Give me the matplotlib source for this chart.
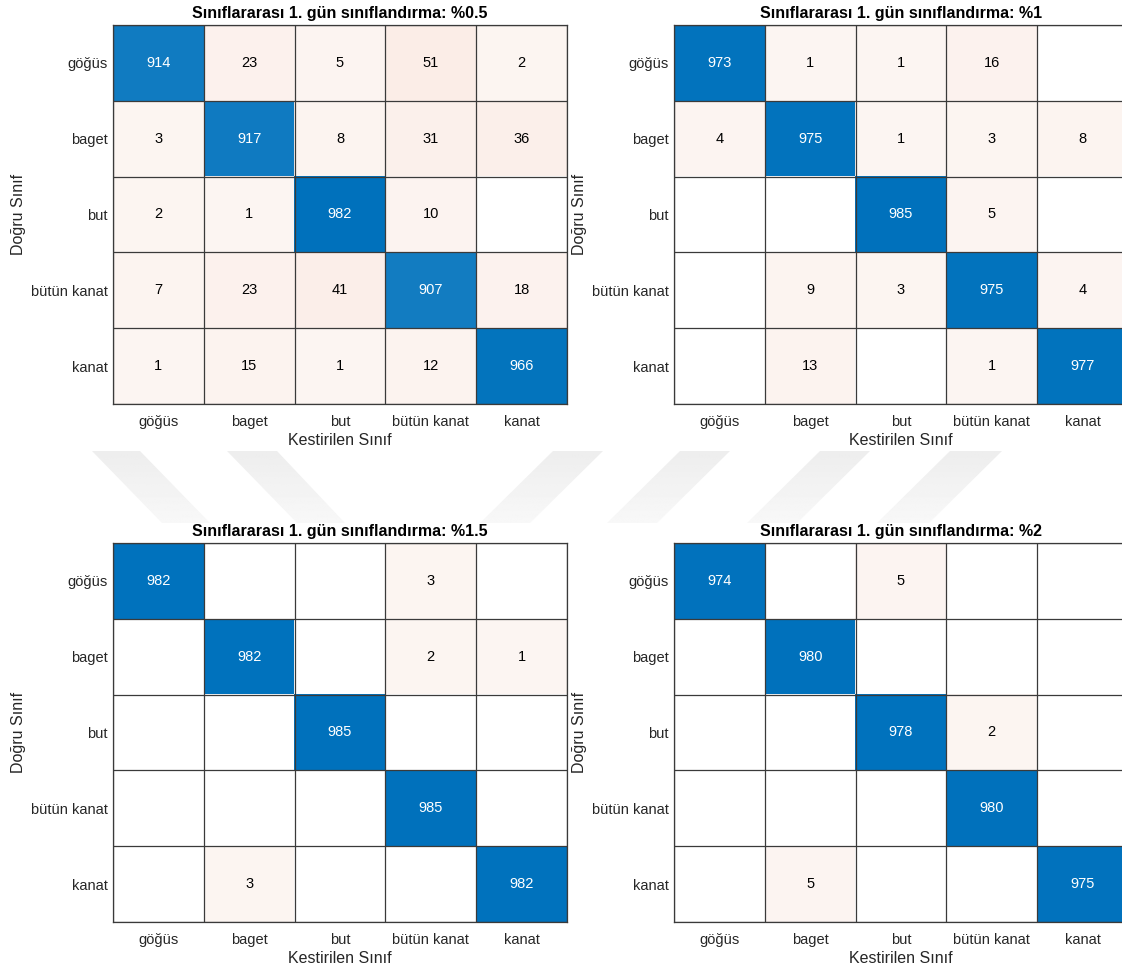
import numpy as np
import matplotlib
matplotlib.use('Agg')
import matplotlib.pyplot as plt
from matplotlib.patches import Polygon

plt.rcParams['font.family'] = ['Liberation Sans', 'DejaVu Sans']

# Class names (true rows / predicted columns)
classes = ['göğüs', 'baget', 'but', 'bütün kanat', 'kanat']
rates = ['%0.5', '%1', '%1.5', '%2']

cm_05 = [[914, 23, 5, 51, 2],
         [3, 917, 8, 31, 36],
         [2, 1, 982, 10, 0],
         [7, 23, 41, 907, 18],
         [1, 15, 1, 12, 966]]

cm_1 = [[973, 1, 1, 16, 0],
        [4, 975, 1, 3, 8],
        [0, 0, 985, 5, 0],
        [0, 9, 3, 975, 4],
        [0, 13, 0, 1, 977]]

cm_15 = [[982, 0, 0, 3, 0],
         [0, 982, 0, 2, 1],
         [0, 0, 985, 0, 0],
         [0, 0, 0, 985, 0],
         [0, 3, 0, 0, 982]]

cm_2 = [[974, 0, 5, 0, 0],
        [0, 980, 0, 0, 0],
        [0, 0, 978, 2, 0],
        [0, 0, 0, 980, 0],
        [0, 5, 0, 0, 975]]

matrices = [cm_05, cm_1, cm_15, cm_2]

W, H = 1122, 974
DIAG = np.array([0.0, 0.447, 0.741])
OFF = np.array([0.85, 0.325, 0.098])
TXT = '#262626'


def px_axes(fig, left, top, right, bottom):
    return fig.add_axes([left / W, 1 - bottom / H, (right - left) / W, (bottom - top) / H])


def cell_colors(cm):
    cm = np.asarray(cm, dtype=float)
    top = cm.max()
    rgb = np.ones(cm.shape + (3,))
    for i in range(cm.shape[0]):
        for j in range(cm.shape[1]):
            v = cm[i, j]
            if v == 0:
                continue
            t = 0.055 + 0.945 * v / top
            base = DIAG if i == j else OFF
            rgb[i, j] = (1 - t) * np.ones(3) + t * base
    return rgb


def draw_chart(ax, cm, rate):
    n = len(classes)
    ax.imshow(cell_colors(cm), extent=(-0.5, n - 0.5, n - 0.5, -0.5),
              aspect='auto', interpolation='nearest')
    for k in range(n + 1):
        ax.axhline(k - 0.5, color='#3a3a3a', lw=0.9)
        ax.axvline(k - 0.5, color='#3a3a3a', lw=0.9)
    for i in range(n):
        for j in range(n):
            v = cm[i][j]
            if v == 0:
                continue
            ax.text(j, i, str(v), ha='center', va='center', fontsize=10.5,
                    color='white' if i == j else 'black')
    ax.set_xlim(-0.5, n - 0.5)
    ax.set_ylim(n - 0.5, -0.5)
    ax.set_xticks(range(n))
    ax.set_yticks(range(n))
    ax.set_xticklabels(classes, fontsize=10.5, color=TXT)
    ax.set_yticklabels(classes, fontsize=10.5, color=TXT)
    ax.tick_params(axis='x', length=0, pad=8)
    ax.tick_params(axis='y', length=0, pad=4)
    for s in ax.spines.values():
        s.set_color('#3a3a3a')
        s.set_linewidth(0.9)
    ax.set_xlabel('Kestirilen Sınıf', fontsize=11.5, color=TXT, labelpad=3)
    ax.set_ylabel('Doğru Sınıf', fontsize=11.5, color=TXT, labelpad=3)
    ax.set_title('Sınıflararası 1. gün sınıflandırma: ' + rate,
                 fontsize=11.5, fontweight='bold', pad=5)


fig = plt.figure(figsize=(W / 100, H / 100), dpi=100)

# light gray chevron bands in the background
bg = fig.add_axes([0, 0, 1, 1], zorder=-10)
bg.axis('off')
y0, y1 = 451, 523
bands = [(92, 140, 162, 210), (227, 277, 297, 345),
         (553, 603, 480, 530), (680, 730, 607, 657),
         (820, 870, 747, 797), (950, 1002, 877, 929)]
grad = np.linspace(0.93, 0.972, 64).reshape(-1, 1)
for tl, tr, bl, br in bands:
    poly = Polygon([(tl, y0), (tr, y0), (br, y1), (bl, y1)], closed=True,
                   facecolor='none', edgecolor='none')
    bg.add_patch(poly)
    im = bg.imshow(np.repeat(grad, 2, axis=1), cmap='gray', vmin=0, vmax=1,
                   extent=(min(tl, bl), max(tr, br), y1, y0), aspect='auto')
    im.set_clip_path(poly)
bg.set_xlim(0, W)
bg.set_ylim(H, 0)

boxes = [(113, 25, 567, 404), (674, 25, 1128, 404),
         (113, 543, 567, 922), (674, 543, 1128, 922)]
for box, cm, rate in zip(boxes, matrices, rates):
    ax = px_axes(fig, *box)
    draw_chart(ax, cm, rate)

fig.savefig('out.png', dpi=100)
